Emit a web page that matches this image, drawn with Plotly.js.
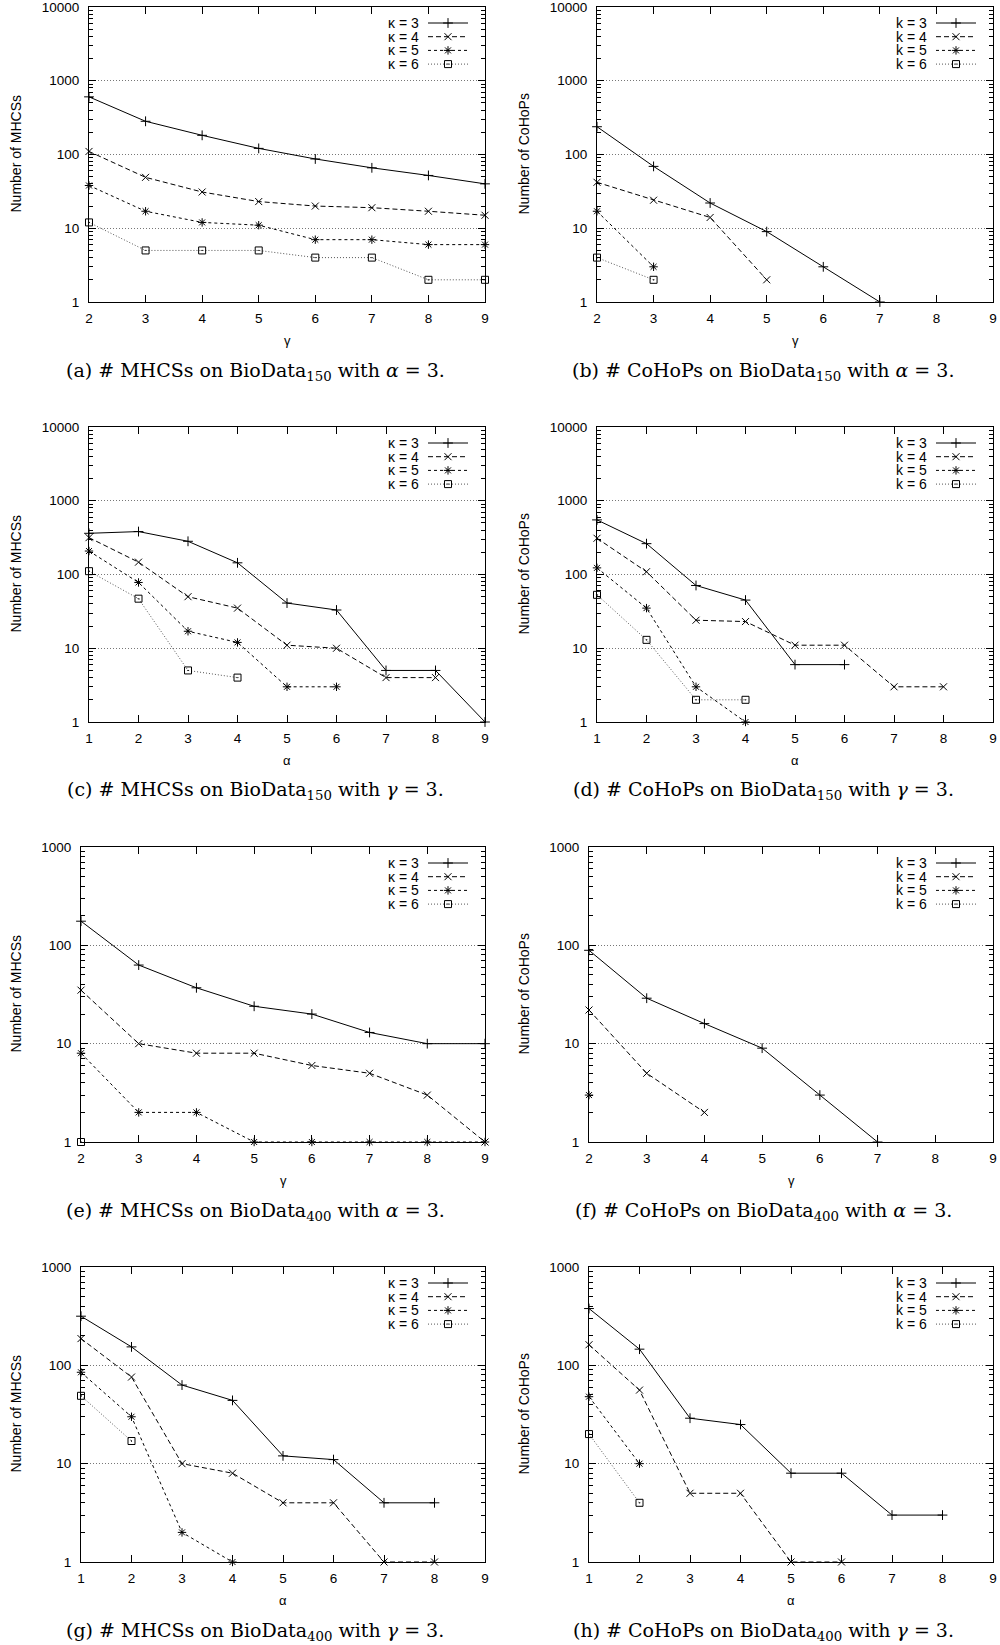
<!DOCTYPE html>
<html>
<head>
<meta charset="utf-8">
<script src="https://cdn.plot.ly/plotly-3.0.1.min.js"></script>
<style>
  html, body { margin: 0; padding: 0; background: #fff; }
  #chart { width: 1000px; height: 1645px; }
</style>
</head>
<body>
<div id="chart"></div>
<script>
// ---------------- data ----------------
const gammaX = [2, 3, 4, 5, 6, 7, 8, 9];
const alphaX = [1, 2, 3, 4, 5, 6, 7, 8, 9];

// (a) # MHCSs on BioData150, alpha = 3, vs gamma
const a_k3 = [605, 282, 182, 121, 87, 66, 52, 40];
const a_k4 = [110, 49, 31, 23, 20, 19, 17, 15];
const a_k5 = [38, 17, 12, 11, 7, 7, 6, 6];
const a_k6 = [12, 5, 5, 5, 4, 4, 2, 2];
// (b) # CoHoPs on BioData150, alpha = 3, vs gamma
const b_k3 = [238, 69, 22, 9, 3, 1, null, null];
const b_k4 = [42, 24, 14, 2, null, null, null, null];
const b_k5 = [17, 3, null, null, null, null, null, null];
const b_k6 = [4, 2, null, null, null, null, null, null];
// (c) # MHCSs on BioData150, gamma = 3, vs alpha
const c_k3 = [362, 382, 282, 144, 41, 33, 5, 5, 1];
const c_k4 = [316, 147, 50, 35, 11, 10, 4, 4, null];
const c_k5 = [208, 78, 17, 12, 3, 3, null, null, null];
const c_k6 = [111, 47, 5, 4, null, null, null, null, null];
// (d) # CoHoPs on BioData150, gamma = 3, vs alpha
const d_k3 = [550, 262, 71, 45, 6, 6, null, null, null];
const d_k4 = [310, 109, 24, 23, 11, 11, 3, 3, null];
const d_k5 = [123, 35, 3, 1, null, null, null, null, null];
const d_k6 = [53, 13, 2, 2, null, null, null, null, null];
// (e) # MHCSs on BioData400, alpha = 3, vs gamma
const e_k3 = [176, 63, 37, 24, 20, 13, 10, 10];
const e_k4 = [35, 10, 8, 8, 6, 5, 3, 1];
const e_k5 = [8, 2, 2, 1, 1, 1, 1, 1];
const e_k6 = [1, null, null, null, null, null, null, null];
// (f) # CoHoPs on BioData400, alpha = 3, vs gamma
const f_k3 = [89, 29, 16, 9, 3, 1, null, null];
const f_k4 = [22, 5, 2, null, null, null, null, null];
const f_k5 = [3, null, null, null, null, null, null, null];
const f_k6 = [null, null, null, null, null, null, null, null];
// (g) # MHCSs on BioData400, gamma = 3, vs alpha
const g_k3 = [316, 154, 63, 44, 12, 11, 4, 4, null];
const g_k4 = [187, 76, 10, 8, 4, 4, 1, 1, null];
const g_k5 = [85, 30, 2, 1, null, null, null, null, null];
const g_k6 = [49, 17, null, null, null, null, null, null, null];
// (h) # CoHoPs on BioData400, gamma = 3, vs alpha
const h_k3 = [378, 146, 29, 25, 8, 8, 3, 3, null];
const h_k4 = [162, 56, 5, 5, 1, 1, null, null, null];
const h_k5 = [48, 10, null, null, null, null, null, null, null];
const h_k6 = [20, 4, null, null, null, null, null, null, null];

const yTickVals4 = [1, 10, 100, 1000, 10000];
const yTickText4 = ["1", "10", "100", "1000", "10000"];
const yTickVals3 = [1, 10, 100, 1000];
const yTickText3 = ["1", "10", "100", "1000"];

const kappaLabels = ["κ = 3", "κ = 4", "κ = 5", "κ = 6"];
const kLabels = ["k = 3", "k = 4", "k = 5", "k = 6"];
const yTitleMHCS = "Number of MHCSs";
const yTitleCoHoP = "Number of CoHoPs";
const captions = [
  "(a) # MHCSs on BioData<sub>150</sub> with <i>α</i> = 3.",
  "(b) # CoHoPs on BioData<sub>150</sub> with <i>α</i> = 3.",
  "(c) # MHCSs on BioData<sub>150</sub> with <i>γ</i> = 3.",
  "(d) # CoHoPs on BioData<sub>150</sub> with <i>γ</i> = 3.",
  "(e) # MHCSs on BioData<sub>400</sub> with <i>α</i> = 3.",
  "(f) # CoHoPs on BioData<sub>400</sub> with <i>α</i> = 3.",
  "(g) # MHCSs on BioData<sub>400</sub> with <i>γ</i> = 3.",
  "(h) # CoHoPs on BioData<sub>400</sub> with <i>γ</i> = 3."
];

// ---------------- layout geometry (pixels) ----------------
const W = 1000, H = 1645;
const panels = [
  {x: gammaX, ys: [a_k3, a_k4, a_k5, a_k6], xr: [2, 9], yr: [0, 4], tv: yTickVals4, tt: yTickText4, l: 89,  r: 485, t: 7,    b: 302,  xt: "γ", yt: yTitleMHCS,  lg: kappaLabels, col: 0},
  {x: gammaX, ys: [b_k3, b_k4, b_k5, b_k6], xr: [2, 9], yr: [0, 4], tv: yTickVals4, tt: yTickText4, l: 597, r: 993, t: 7,    b: 302,  xt: "γ", yt: yTitleCoHoP, lg: kLabels,     col: 1},
  {x: alphaX, ys: [c_k3, c_k4, c_k5, c_k6], xr: [1, 9], yr: [0, 4], tv: yTickVals4, tt: yTickText4, l: 89,  r: 485, t: 427,  b: 722,  xt: "α", yt: yTitleMHCS,  lg: kappaLabels, col: 0},
  {x: alphaX, ys: [d_k3, d_k4, d_k5, d_k6], xr: [1, 9], yr: [0, 4], tv: yTickVals4, tt: yTickText4, l: 597, r: 993, t: 427,  b: 722,  xt: "α", yt: yTitleCoHoP, lg: kLabels,     col: 1},
  {x: gammaX, ys: [e_k3, e_k4, e_k5, e_k6], xr: [2, 9], yr: [0, 3], tv: yTickVals3, tt: yTickText3, l: 81,  r: 485, t: 847,  b: 1142, xt: "γ", yt: yTitleMHCS,  lg: kappaLabels, col: 0},
  {x: gammaX, ys: [f_k3, f_k4, f_k5, f_k6], xr: [2, 9], yr: [0, 3], tv: yTickVals3, tt: yTickText3, l: 589, r: 993, t: 847,  b: 1142, xt: "γ", yt: yTitleCoHoP, lg: kLabels,     col: 1},
  {x: alphaX, ys: [g_k3, g_k4, g_k5, g_k6], xr: [1, 9], yr: [0, 3], tv: yTickVals3, tt: yTickText3, l: 81,  r: 485, t: 1267, b: 1562, xt: "α", yt: yTitleMHCS,  lg: kappaLabels, col: 0},
  {x: alphaX, ys: [h_k3, h_k4, h_k5, h_k6], xr: [1, 9], yr: [0, 3], tv: yTickVals3, tt: yTickText3, l: 589, r: 993, t: 1267, b: 1562, xt: "α", yt: yTitleCoHoP, lg: kLabels,     col: 1}
];

// series styles: kappa = 3, 4, 5, 6
const seriesStyle = [
  {dash: "solid",     color: "#000000", symbol: "cross-thin-open", size: 7},
  {dash: "5px,3px",   color: "#000000", symbol: "x-thin-open",     size: 7},
  {dash: "3px,3px",   color: "#000000", symbol: "asterisk-open",   size: 7},
  {dash: "1px,2px",   color: "#555555", symbol: "square-open-dot", size: 7}
];

const SANS = "Liberation Sans, Arial, Helvetica, sans-serif";
const SERIF = "DejaVu Serif, Liberation Serif, serif";

const px = v => v / W;
const py = v => 1 - v / H;

// minor tick positions (2..9 within each decade) for a log axis
function minorTicks(decades) {
  const out = [];
  for (let d = 0; d < decades; d++) {
    for (let m = 2; m <= 9; m++) out.push(m * Math.pow(10, d));
  }
  return out;
}

const traces = [];
const annotations = [];
const layout = {
  width: W, height: H,
  margin: {l: 0, r: 0, t: 0, b: 0, pad: 0},
  paper_bgcolor: "#ffffff",
  plot_bgcolor: "rgba(0,0,0,0)",
  showlegend: false,
  font: {family: SANS, color: "#000000", size: 13}
};

panels.forEach((p, i) => {
  const n = i + 1;
  const xa = "xaxis" + (n === 1 ? "" : n);
  const ya = "yaxis" + (n === 1 ? "" : n);
  const xr = "x" + (n === 1 ? "" : n);
  const yr = "y" + (n === 1 ? "" : n);

  layout[xa] = {
    domain: [px(p.l), px(p.r)],
    anchor: yr,
    range: p.xr,
    tickmode: "linear", tick0: 0, dtick: 1,
    ticks: "inside", ticklen: 7, tickwidth: 1, tickcolor: "#000",
    showline: true, linecolor: "#000", linewidth: 1, mirror: "ticks",
    showgrid: false, zeroline: false,
    tickfont: {family: SANS, size: 13.5, color: "#000"},
    ticklabelstandoff: 4,
    fixedrange: true
  };
  layout[ya] = {
    domain: [py(p.b), py(p.t)],
    anchor: xr,
    type: "log",
    range: p.yr,
    tickmode: "array", tickvals: p.tv, ticktext: p.tt,
    ticks: "inside", ticklen: 7, tickwidth: 1, tickcolor: "#000",
    showline: true, linecolor: "#000", linewidth: 1, mirror: "ticks",
    showgrid: true, gridcolor: "#777777", gridwidth: 1, griddash: "1px,2px",
    zeroline: false,
    minor: {tickmode: "array", tickvals: minorTicks(p.yr[1]), ticks: "inside", ticklen: 4, tickwidth: 1, tickcolor: "#000", showgrid: false},
    tickfont: {family: SANS, size: 13.5, color: "#000"},
    ticklabelstandoff: 6,
    ticklabeloverflow: "allow",
    fixedrange: true
  };

  p.ys.forEach((yv, s) => {
    const st = seriesStyle[s];
    traces.push({
      type: "scatter", mode: "lines+markers",
      x: p.x, y: yv, xaxis: xr, yaxis: yr,
      connectgaps: false, cliponaxis: false,
      line: {color: st.color, width: 1, dash: st.dash},
      marker: {symbol: st.symbol, size: st.size, color: "#000", line: {color: "#000", width: 1}},
      hoverinfo: "skip", showlegend: false
    });
  });

  // axis titles
  annotations.push({
    xref: "paper", yref: "paper", x: px((p.l + p.r) / 2), y: py(p.t + 333),
    xanchor: "center", yanchor: "middle", showarrow: false,
    text: p.xt, font: {family: SANS, size: 13, color: "#000"}
  });
  annotations.push({
    xref: "paper", yref: "paper", x: px(p.col === 0 ? 15 : 523), y: py((p.t + p.b) / 2),
    xanchor: "center", yanchor: "middle", showarrow: false, textangle: -90,
    text: p.yt, font: {family: SANS, size: 14, color: "#000"}
  });
  // caption
  annotations.push({
    xref: "paper", yref: "paper", x: px(p.col === 0 ? 255 : 763), y: py(p.t + 364),
    xanchor: "center", yanchor: "middle", showarrow: false,
    text: captions[i], font: {family: SERIF, size: 19, color: "#000"}
  });

  // legend (gnuplot style: label, then sample line with point)
  p.lg.forEach((lab, s) => {
    const st = seriesStyle[s];
    const yy = p.t + 16 + s * 13.7;
    annotations.push({
      xref: "paper", yref: "paper", x: px(p.r - 64), y: py(yy),
      xanchor: "right", yanchor: "middle", showarrow: false,
      text: lab, font: {family: SANS, size: 14, color: "#000"}
    });
    traces.push({
      type: "scatter", mode: "lines+markers",
      x: [p.r - 57, p.r - 37, p.r - 17], y: [yy, yy, yy],
      xaxis: "x9", yaxis: "y9", cliponaxis: false,
      line: {color: st.color, width: 1, dash: st.dash},
      marker: {symbol: st.symbol, size: st.size, color: "#000", opacity: [0, 1, 0], line: {color: "#000", width: 1}},
      hoverinfo: "skip", showlegend: false
    });
  });
});

// pixel overlay axes for the legend samples
layout.xaxis9 = {domain: [0, 1], range: [0, W], visible: false, fixedrange: true, anchor: "y9"};
layout.yaxis9 = {domain: [0, 1], range: [H, 0], visible: false, fixedrange: true, anchor: "x9"};
layout.annotations = annotations;

Plotly.newPlot("chart", traces, layout, {staticPlot: true, displayModeBar: false});
</script>
</body>
</html>
